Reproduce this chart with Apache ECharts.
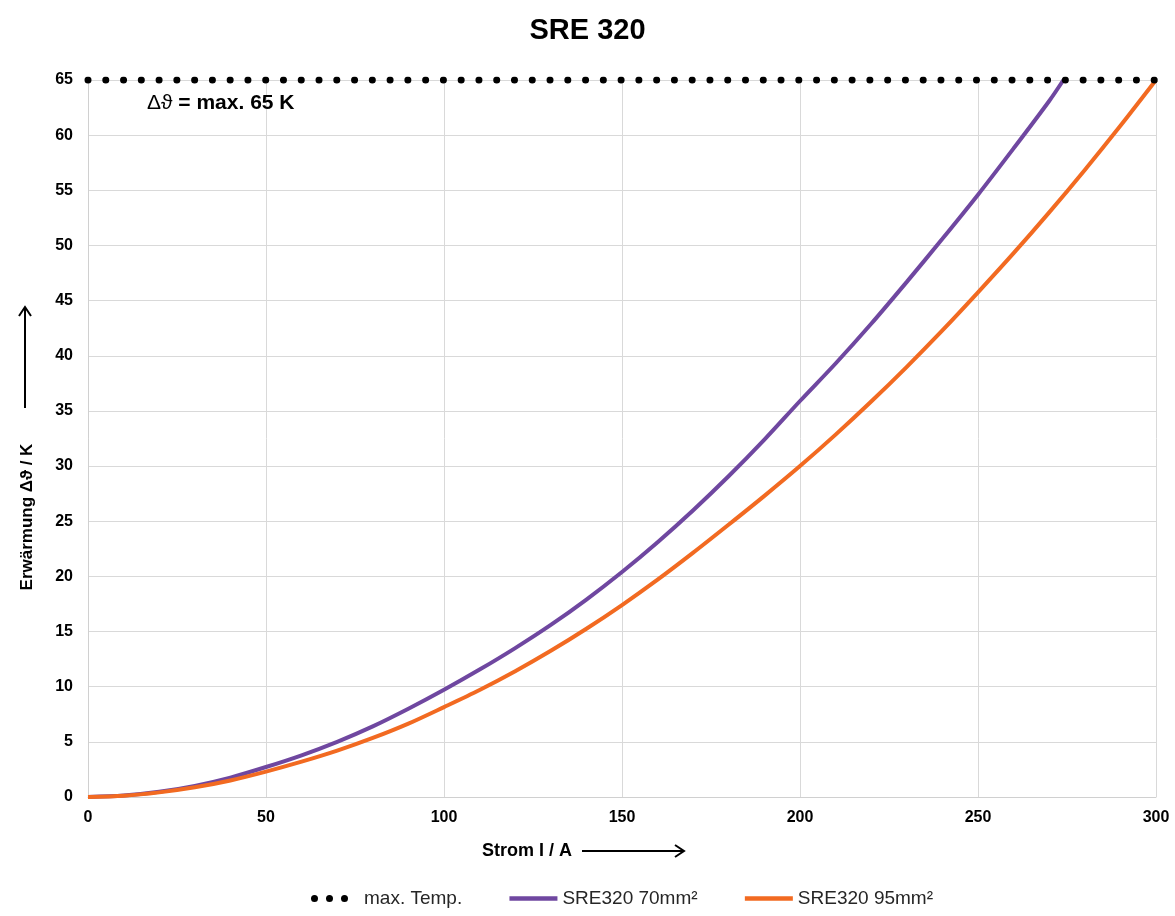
<!DOCTYPE html>
<html>
<head>
<meta charset="utf-8">
<script src="https://cdn.jsdelivr.net/npm/echarts@6/dist/echarts.min.js"></script>
<style>
html,body{margin:0;padding:0;background:#fff;}
#c{width:1175px;height:916px;}
</style>
</head>
<body>
<div id="c"></div>
<script>
// ---- data ----
var title = 'SRE 320';
var xTicks = [0, 50, 100, 150, 200, 250, 300];
var yTicks = [0, 5, 10, 15, 20, 25, 30, 35, 40, 45, 50, 55, 60, 65];
var seriesNames = ['max. Temp.', 'SRE320 70mm²', 'SRE320 95mm²'];

var maxTempI = [0, 300];
var maxTempK = [65, 65];

var current70 = [0, 10, 20, 30, 40, 50, 60, 70, 80, 90, 100, 110, 120, 130, 140, 150, 160, 170, 180, 190, 200, 210, 220, 230, 240, 250, 260, 270, 274];
var temp70 = [0, 0.13, 0.47, 1.01, 1.76, 2.72, 3.78, 5.0, 6.4, 8.0, 9.72, 11.55, 13.5, 15.6, 17.9, 20.4, 23.1, 26.0, 29.1, 32.4, 35.9, 39.3, 42.9, 46.7, 50.6, 54.6, 58.8, 63.1, 65];

var current95 = [0, 10, 20, 30, 40, 50, 60, 70, 80, 90, 100, 110, 120, 130, 140, 150, 160, 170, 180, 190, 200, 210, 220, 230, 240, 250, 260, 270, 280, 290, 300];
var temp95 = [0, 0.11, 0.42, 0.88, 1.5, 2.3, 3.2, 4.2, 5.35, 6.65, 8.15, 9.7, 11.4, 13.25, 15.25, 17.4, 19.7, 22.15, 24.7, 27.3, 30.0, 32.85, 35.85, 39.0, 42.3, 45.75, 49.3, 53.0, 56.85, 60.85, 65];

function pairs(xs, ys) { return xs.map(function (x, i) { return [x, ys[i]]; }); }

var FONT = '"Liberation Sans", Arial, sans-serif';
var chart = echarts.init(document.getElementById('c'), null, {renderer: 'canvas'});

var dotsIcon = 'path://M0,3.5a3.5,3.5 0 1,0 7,0a3.5,3.5 0 1,0 -7,0Z' +
  'M15,3.5a3.5,3.5 0 1,0 7,0a3.5,3.5 0 1,0 -7,0Z' +
  'M30,3.5a3.5,3.5 0 1,0 7,0a3.5,3.5 0 1,0 -7,0Z' +
  'M48,7L48,7';

chart.setOption({
  animation: false,
  backgroundColor: '#ffffff',
  title: {
    text: title,
    left: 'center',
    top: 11,
    textStyle: {fontFamily: FONT, fontSize: 29, fontWeight: 'bold', color: '#000'}
  },
  grid: {left: 88, right: 19, top: 80, bottom: 119},
  xAxis: {
    type: 'value',
    min: xTicks[0],
    max: xTicks[xTicks.length - 1],
    interval: xTicks[1] - xTicks[0],
    axisLine: {show: true, lineStyle: {color: '#d0d0d0', width: 1}},
    axisTick: {show: false},
    splitLine: {show: true, lineStyle: {color: '#d9d9d9', width: 1}},
    axisLabel: {margin: 13, fontFamily: FONT, fontSize: 16, fontWeight: 'bold', color: '#000'}
  },
  yAxis: {
    type: 'value',
    min: yTicks[0],
    max: yTicks[yTicks.length - 1],
    interval: yTicks[1] - yTicks[0],
    axisLine: {show: true, lineStyle: {color: '#d0d0d0', width: 1}},
    axisTick: {show: false},
    splitLine: {show: true, lineStyle: {color: '#d9d9d9', width: 1}},
    axisLabel: {margin: 15, fontFamily: FONT, fontSize: 16, fontWeight: 'bold', color: '#000'}
  },
  legend: {
    bottom: 3,
    left: 306,
    itemWidth: 48,
    itemHeight: 7,
    itemGap: 45,
    itemStyle: {opacity: 0},
    lineStyle: {width: 4.5},
    textStyle: {fontFamily: FONT, fontSize: 19, color: '#262626'},
    data: [
      {name: seriesNames[0], icon: dotsIcon, itemStyle: {opacity: 1, color: '#000'}},
      {name: seriesNames[1]},
      {name: seriesNames[2]}
    ]
  },
  series: [
    {
      name: seriesNames[0],
      type: 'line',
      data: pairs(maxTempI, maxTempK),
      symbol: 'none',
      color: '#000',
      lineStyle: {color: '#000', width: 7, type: [0.01, 17.76], cap: 'round'},
      z: 5
    },
    {
      name: seriesNames[1],
      type: 'line',
      data: pairs(current70, temp70),
      symbol: 'none',
      smooth: 0.3,
      color: '#6F47A0',
      lineStyle: {color: '#6F47A0', width: 4},
      z: 4
    },
    {
      name: seriesNames[2],
      type: 'line',
      data: pairs(current95, temp95),
      symbol: 'none',
      smooth: 0.3,
      color: '#F26A21',
      lineStyle: {color: '#F26A21', width: 4},
      z: 4
    }
  ],
  graphic: [
    {
      type: 'text', x: 147, y: 103, z: 10,
      style: {
        text: '{a|Δϑ} = max. 65 K',
        fontFamily: FONT, fontSize: 21, fontWeight: 'bold', fill: '#000',
        verticalAlign: 'middle',
        rich: {a: {fontFamily: FONT, fontSize: 21, fontWeight: 'normal', fill: '#000'}}
      }
    },
    // x axis name with arrow
    {
      type: 'text', x: 482, y: 851,
      style: {text: 'Strom I / A', fontFamily: FONT, fontSize: 18, fontWeight: 'bold', fill: '#000', verticalAlign: 'middle'}
    },
    {type: 'line', shape: {x1: 582, y1: 851, x2: 684, y2: 851}, style: {stroke: '#000', lineWidth: 2}},
    {type: 'polyline', shape: {points: [[675, 845], [684, 851], [675, 857]]}, style: {stroke: '#000', lineWidth: 2, fill: null}},
    // y axis name with arrow
    {
      type: 'text', x: 27, y: 517, rotation: Math.PI / 2,
      style: {text: 'Erwärmung Δϑ / K', fontFamily: FONT, fontSize: 17, fontWeight: 'bold', fill: '#000', align: 'center', verticalAlign: 'middle'}
    },
    {type: 'line', shape: {x1: 25, y1: 408, x2: 25, y2: 307}, style: {stroke: '#000', lineWidth: 2}},
    {type: 'polyline', shape: {points: [[19, 316], [25, 307], [31, 316]]}, style: {stroke: '#000', lineWidth: 2, fill: null}}
  ]
});
</script>
</body>
</html>
